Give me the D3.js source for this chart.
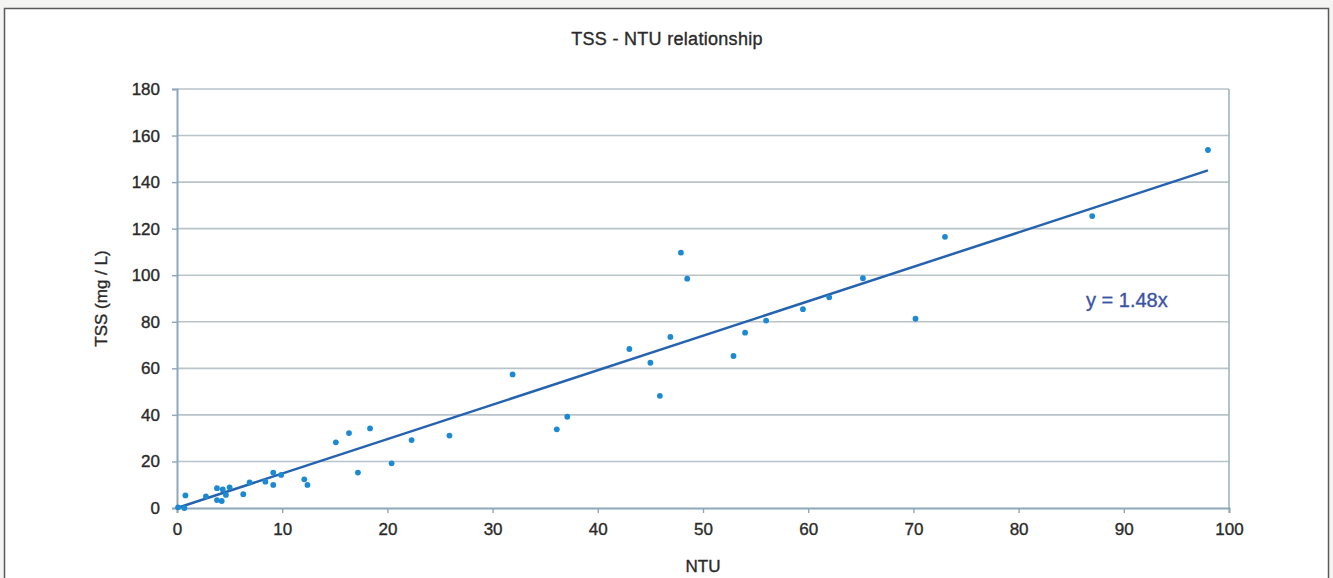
<!DOCTYPE html>
<html>
<head>
<meta charset="utf-8">
<script src="https://cdn.jsdelivr.net/npm/d3@7"></script>
<style>
  html, body { margin: 0; padding: 0; background: #f4f4f2; }
  svg { display: block; }
  text { font-family: "Liberation Sans", Arial, Helvetica, sans-serif; fill: #2a2a2a; }
</style>
</head>
<body>
<svg id="chart" width="1333" height="578"></svg>
<script>
// ---- Data ----
const ntu = [0.1, 0.7, 0.8, 2.75, 3.8, 4.35, 5.0, 3.8, 4.25, 4.65, 6.3, 6.9, 8.4, 9.15, 9.15, 9.9,
             12.1, 12.4, 15.1, 16.35, 18.35, 17.2, 20.4, 22.3, 25.9,
             31.9, 37.1, 36.1, 43.0, 45.0, 45.9, 46.9, 47.9, 48.5, 52.9, 54.0, 56.0,
             59.5, 62.0, 65.2, 70.2, 73.0, 87.0, 98.0];
const tss = [0.3, 0, 5.4, 5.0, 8.5, 8.0, 8.9, 3.4, 3.0, 5.6, 5.9, 11, 11.3, 15.2, 9.9, 14.2,
             12.3, 9.9, 28.2, 32.2, 34.2, 15.2, 19.2, 29.2, 31.1,
             57.4, 39.2, 33.8, 68.3, 62.4, 48.2, 73.5, 109.7, 98.5, 65.3, 75.3, 80.5,
             85.4, 90.5, 98.7, 81.3, 116.5, 125.4, 153.8];
const slope = 1.48;
const trendRange = [0, 98];
const xTicks = [0, 10, 20, 30, 40, 50, 60, 70, 80, 90, 100];
const yTicks = [0, 20, 40, 60, 80, 100, 120, 140, 160, 180];
const titleText = "TSS - NTU relationship";
const xLabel = "NTU";
const yLabel = "TSS (mg / L)";
const equationText = "y = 1.48x";

// ---- Layout ----
const plot = { left: 177, right: 1229, top: 89, bottom: 508 };
const svg = d3.select("#chart");
const textStroke = (sel, c) => sel.attr("stroke", c || "#2a2a2a").attr("stroke-width", 0.35);

// outer frame
svg.append("rect").attr("x", 4.5).attr("y", 8.5).attr("width", 1324).attr("height", 580)
  .attr("fill", "#ffffff").attr("stroke", "#5a5a5a").attr("stroke-width", 1.5);

const x = d3.scaleLinear().domain([0, 100]).range([plot.left, plot.right]);
const y = d3.scaleLinear().domain([0, 180]).range([plot.bottom, plot.top]);

// grid lines
svg.append("g").selectAll("line").data(yTicks.filter(d => d > 0)).join("line")
  .attr("x1", plot.left).attr("x2", plot.right)
  .attr("y1", d => y(d)).attr("y2", d => y(d))
  .attr("stroke", "#b9c3ca").attr("stroke-width", 1.6);

// right border of plot area
svg.append("line").attr("x1", plot.right).attr("x2", plot.right)
  .attr("y1", plot.top).attr("y2", plot.bottom)
  .attr("stroke", "#9fb4c4").attr("stroke-width", 1.6);

// axes
const axisColor = "#8ea7ba";
const yAxis = svg.append("g").attr("transform", `translate(${plot.left},0)`)
  .call(d3.axisLeft(y).tickValues(yTicks).tickSize(5).tickPadding(12));
const xAxis = svg.append("g").attr("transform", `translate(0,${plot.bottom})`)
  .call(d3.axisBottom(x).tickValues(xTicks).tickSize(5).tickPadding(10));
[xAxis, yAxis].forEach(g => {
  g.select(".domain").attr("stroke", axisColor).attr("stroke-width", 2);
  g.selectAll(".tick line").attr("stroke", axisColor).attr("stroke-width", 1.4);
  g.selectAll(".tick text").attr("font-size", 17).attr("fill", "#2a2a2a")
    .style("font-family", "'Liberation Sans', Arial, sans-serif")
    .call(textStroke);
});

// trend line
svg.append("line")
  .attr("x1", x(trendRange[0])).attr("y1", y(slope * trendRange[0]))
  .attr("x2", x(trendRange[1])).attr("y2", y(slope * trendRange[1]))
  .attr("stroke", "#2563b0").attr("stroke-width", 2.5);

// points
const pts = ntu.map((v, i) => ({ x: v, y: tss[i] }));
svg.append("g").selectAll("circle").data(pts).join("circle")
  .attr("cx", d => x(d.x)).attr("cy", d => y(d.y)).attr("r", 2.9)
  .attr("fill", "#1c8ad2");

// title
svg.append("text").attr("x", 667).attr("y", 45)
  .attr("text-anchor", "middle").attr("font-size", 18).attr("letter-spacing", 0.3)
  .text(titleText).call(textStroke);

// axis labels
svg.append("text").attr("x", (plot.left + plot.right) / 2).attr("y", 572)
  .attr("text-anchor", "middle").attr("font-size", 17).text(xLabel).call(textStroke);
svg.append("text")
  .attr("transform", `translate(107,${(plot.top + plot.bottom) / 2}) rotate(-90)`)
  .attr("text-anchor", "middle").attr("font-size", 17).text(yLabel).call(textStroke);

// equation
svg.append("text").attr("x", 1086).attr("y", 307)
  .attr("font-size", 20).style("fill", "#3a52a6").text(equationText)
  .call(textStroke, "#3a52a6");
</script>
</body>
</html>
